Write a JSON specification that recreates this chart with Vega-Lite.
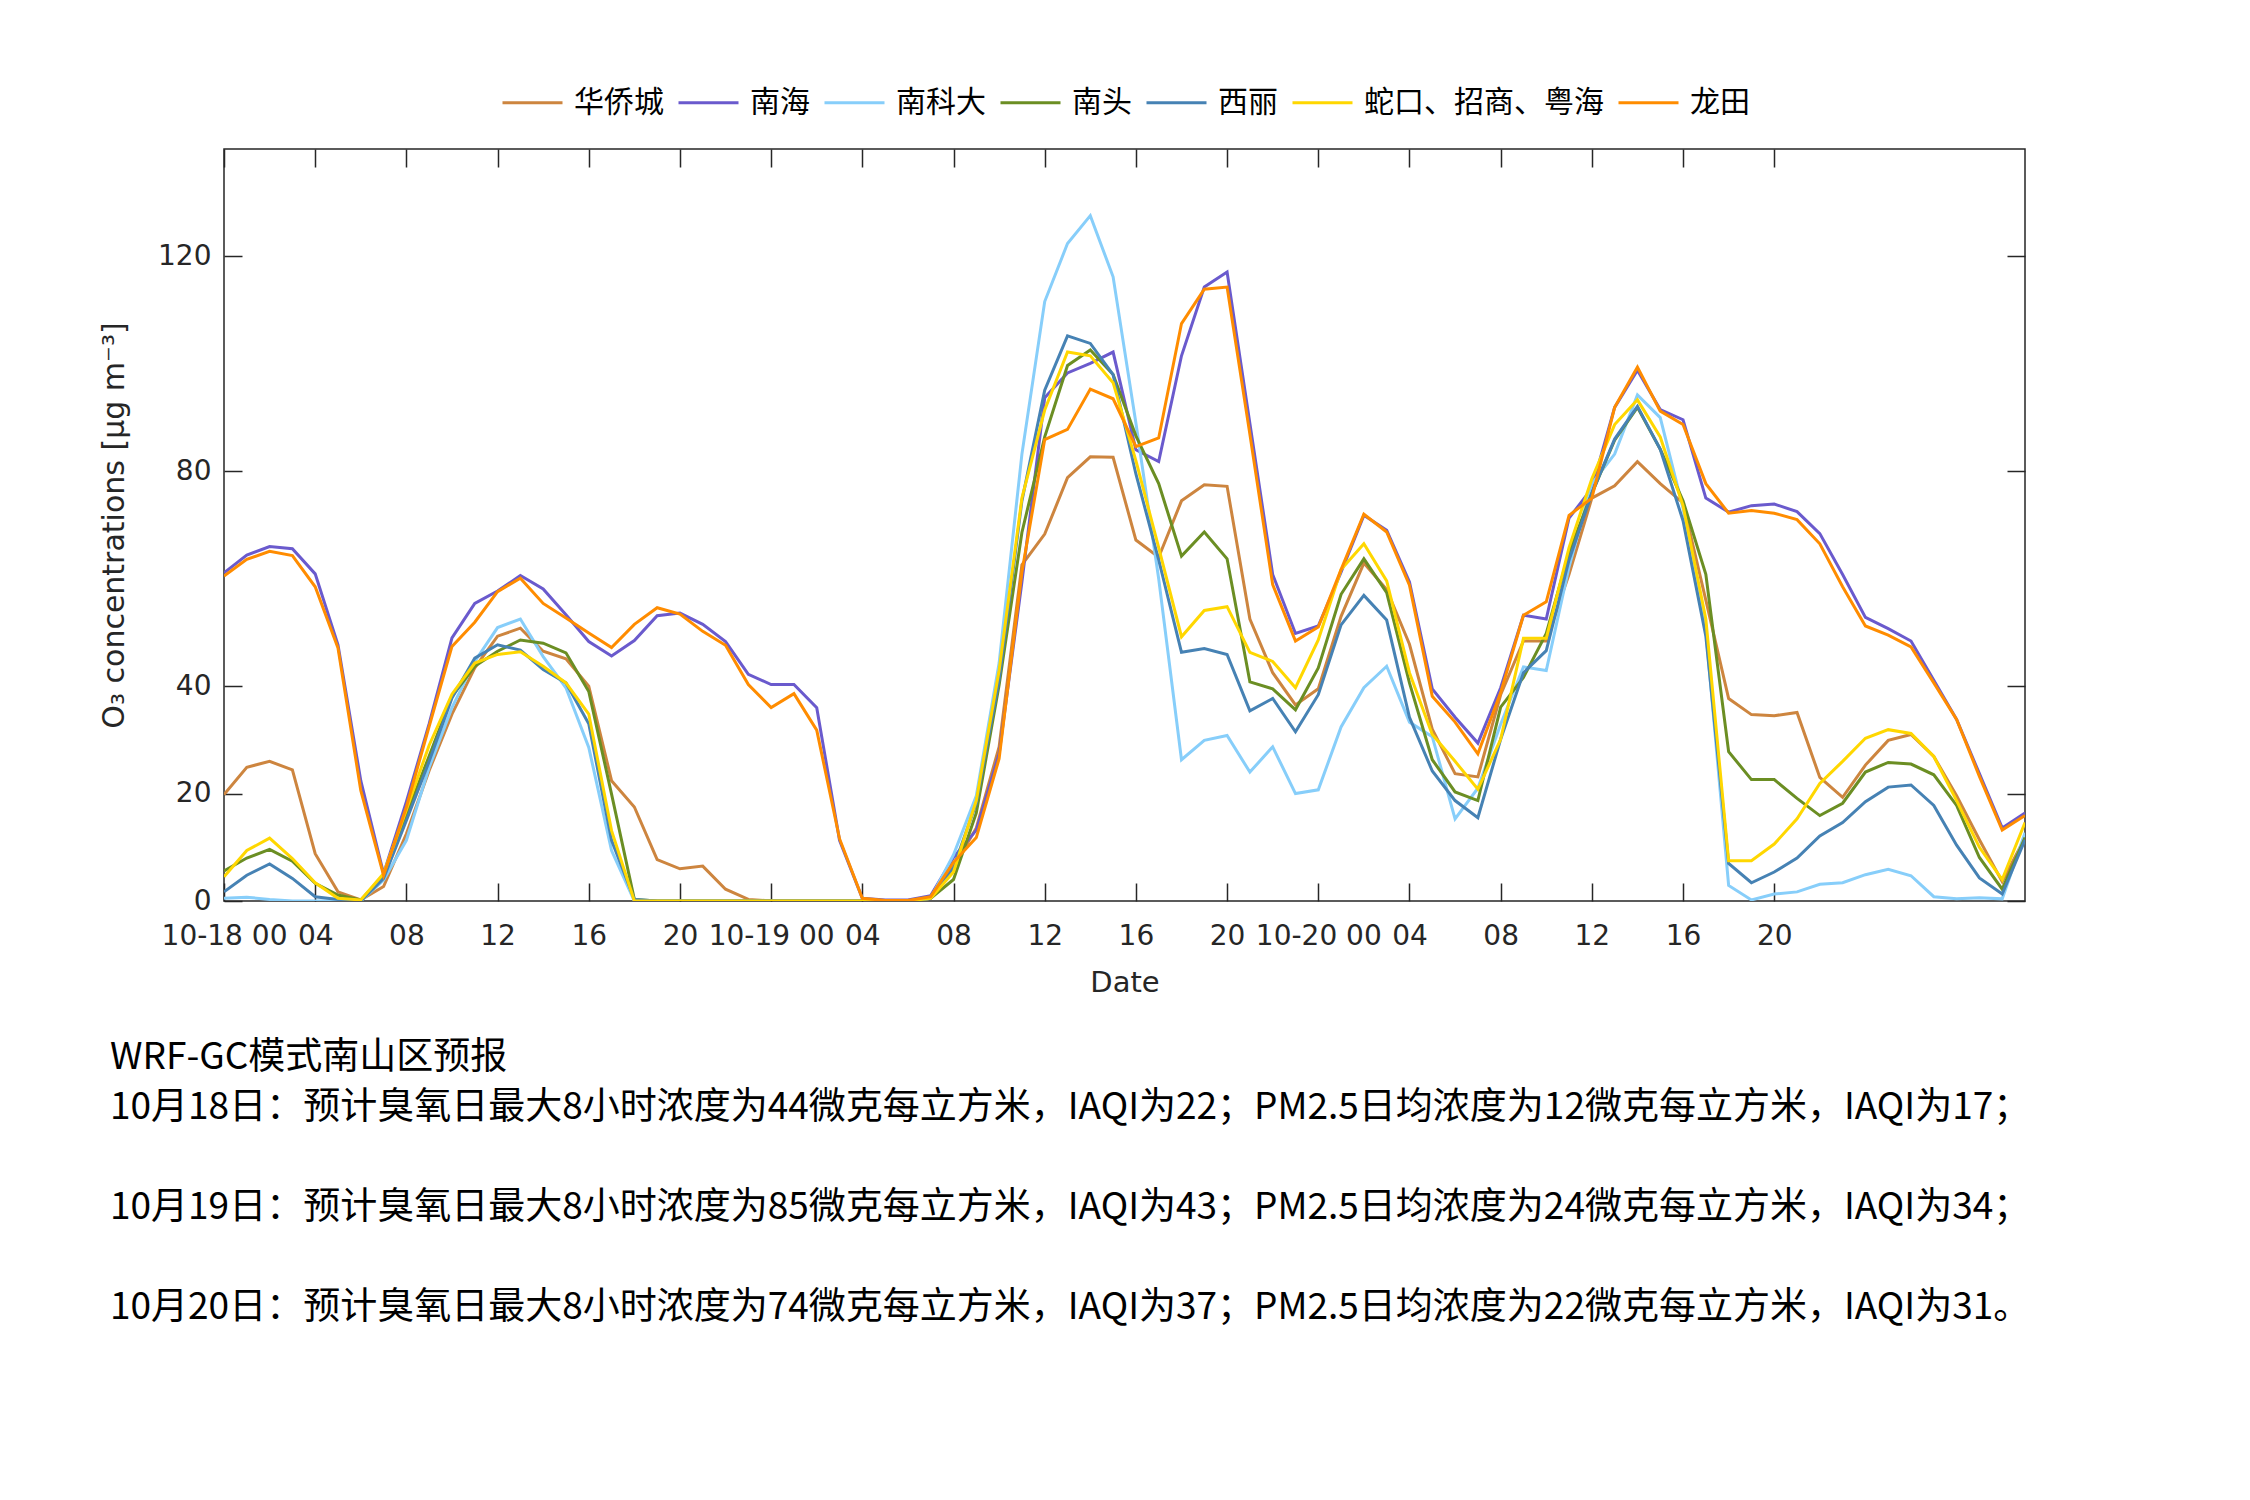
{
  "$schema": "https://vega.github.io/schema/vega-lite/v6.json",
  "width": 1801,
  "height": 752,
  "autosize": {"type": "none"},
  "padding": {"left": 224, "top": 149, "right": 225, "bottom": 599},
  "background": "white",
  "config": {
    "view": {"stroke": "#262626", "strokeWidth": 1.5},
    "font": "DejaVu Sans"
  },
  "title": {
    "text": "WRF-GC模式南山区预报",
    "subtitle": [
      "10月18日：预计臭氧日最大8小时浓度为44微克每立方米，IAQI为22；PM2.5日均浓度为12微克每立方米，IAQI为17；",
      "10月19日：预计臭氧日最大8小时浓度为85微克每立方米，IAQI为43；PM2.5日均浓度为24微克每立方米，IAQI为34；",
      "10月20日：预计臭氧日最大8小时浓度为74微克每立方米，IAQI为37；PM2.5日均浓度为22微克每立方米，IAQI为31。"
    ],
    "orient": "bottom",
    "anchor": "start",
    "frame": "group",
    "dx": -114,
    "offset": 43,
    "font": "Noto Sans CJK SC",
    "fontSize": 37,
    "fontWeight": "normal",
    "color": "#000000",
    "subtitleFont": "Noto Sans CJK SC",
    "subtitleFontSize": 37,
    "subtitleFontWeight": "normal",
    "subtitleColor": "#000000",
    "subtitleLineHeight": 100,
    "subtitlePadding": 13
  },
  "data": {
    "values": [
      {"hour":0,"华侨城":19.8,"南海":61.1,"南科大":0.5,"南头":5.6,"西丽":1.7,"蛇口、招商、粤海":4.5,"龙田":60.5},
      {"hour":1,"华侨城":24.9,"南海":64.4,"南科大":0.7,"南头":8.0,"西丽":4.8,"蛇口、招商、粤海":9.4,"龙田":63.6},
      {"hour":2,"华侨城":26.0,"南海":66.0,"南科大":0.3,"南头":9.6,"西丽":6.9,"蛇口、招商、粤海":11.7,"龙田":65.1},
      {"hour":3,"华侨城":24.4,"南海":65.6,"南科大":0,"南头":7.4,"西丽":4.2,"蛇口、招商、粤海":7.9,"龙田":64.3},
      {"hour":4,"华侨城":8.8,"南海":60.9,"南科大":0,"南头":3.3,"西丽":0.8,"蛇口、招商、粤海":3.4,"龙田":58.5},
      {"hour":5,"华侨城":1.7,"南海":47.7,"南科大":0,"南头":1.1,"西丽":0.3,"蛇口、招商、粤海":0.5,"龙田":47.1},
      {"hour":6,"华侨城":0.2,"南海":22.4,"南科大":0,"南头":0.2,"西丽":0,"蛇口、招商、粤海":0.2,"龙田":20.6},
      {"hour":7,"华侨城":2.7,"南海":5.1,"南科大":3.9,"南头":4.8,"西丽":4.2,"蛇口、招商、粤海":5.1,"龙田":4.8},
      {"hour":8,"华侨城":12.5,"南海":18.5,"南科大":11.3,"南头":16.0,"西丽":15.0,"蛇口、招商、粤海":17.0,"龙田":17.5},
      {"hour":9,"华侨城":24.3,"南海":33.0,"南科大":24.9,"南头":27.0,"西丽":26.0,"蛇口、招商、粤海":29.0,"龙田":32.5},
      {"hour":10,"华侨城":34.8,"南海":49.0,"南科大":36.0,"南头":38.1,"西丽":37.8,"蛇口、招商、粤海":38.5,"龙田":47.4},
      {"hour":11,"华侨城":43.4,"南海":55.4,"南科大":44.6,"南头":43.7,"西丽":45.2,"蛇口、招商、粤海":44.3,"龙田":51.9},
      {"hour":12,"华侨城":49.3,"南海":57.7,"南科大":50.9,"南头":46.5,"西丽":47.7,"蛇口、招商、粤海":45.9,"龙田":57.6},
      {"hour":13,"华侨城":50.8,"南海":60.6,"南科大":52.5,"南头":48.6,"西丽":46.7,"蛇口、招商、粤海":46.4,"龙田":60.1},
      {"hour":14,"华侨城":46.5,"南海":58.1,"南科大":45.5,"南头":48.0,"西丽":43.1,"蛇口、招商、粤海":43.7,"龙田":55.4},
      {"hour":15,"华侨城":45.1,"南海":53.3,"南科大":39.7,"南头":46.2,"西丽":40.6,"蛇口、招商、粤海":40.6,"龙田":52.7},
      {"hour":16,"华侨城":40.0,"南海":48.3,"南科大":28.6,"南头":39.0,"西丽":33.0,"蛇口、招商、粤海":34.8,"龙田":49.9},
      {"hour":17,"华侨城":22.4,"南海":45.6,"南科大":9.4,"南头":19.9,"西丽":11.3,"蛇口、招商、粤海":13.1,"龙田":47.2},
      {"hour":18,"华侨城":17.5,"南海":48.5,"南科大":0,"南头":0.3,"西丽":0.3,"蛇口、招商、粤海":0,"龙田":51.5},
      {"hour":19,"华侨城":7.7,"南海":53.1,"南科大":0,"南头":0,"西丽":0,"蛇口、招商、粤海":0,"龙田":54.6},
      {"hour":20,"华侨城":6.0,"南海":53.6,"南科大":0,"南头":0,"西丽":0,"蛇口、招商、粤海":0,"龙田":53.4},
      {"hour":21,"华侨城":6.5,"南海":51.5,"南科大":0,"南头":0,"西丽":0,"蛇口、招商、粤海":0,"龙田":50.2},
      {"hour":22,"华侨城":2.2,"南海":48.3,"南科大":0,"南头":0,"西丽":0,"蛇口、招商、粤海":0,"龙田":47.6},
      {"hour":23,"华侨城":0.3,"南海":42.2,"南科大":0,"南头":0,"西丽":0,"蛇口、招商、粤海":0,"龙田":40.3},
      {"hour":24,"华侨城":0,"南海":40.3,"南科大":0,"南头":0,"西丽":0,"蛇口、招商、粤海":0,"龙田":36.0},
      {"hour":25,"华侨城":0,"南海":40.3,"南科大":0,"南头":0,"西丽":0,"蛇口、招商、粤海":0,"龙田":38.6},
      {"hour":26,"华侨城":0,"南海":36.0,"南科大":0,"南头":0,"西丽":0,"蛇口、招商、粤海":0,"龙田":31.8},
      {"hour":27,"华侨城":0,"南海":11.3,"南科大":0,"南头":0,"西丽":0,"蛇口、招商、粤海":0,"龙田":11.6},
      {"hour":28,"华侨城":0,"南海":0.5,"南科大":0,"南头":0,"西丽":0,"蛇口、招商、粤海":0,"龙田":0.5},
      {"hour":29,"华侨城":0,"南海":0.2,"南科大":0,"南头":0,"西丽":0,"蛇口、招商、粤海":0,"龙田":0.1},
      {"hour":30,"华侨城":0,"南海":0.2,"南科大":0,"南头":0,"西丽":0,"蛇口、招商、粤海":0,"龙田":0.1},
      {"hour":31,"华侨城":0.5,"南海":1.0,"南科大":0.5,"南头":0.5,"西丽":0.5,"蛇口、招商、粤海":0.5,"龙田":0.8},
      {"hour":32,"华侨城":6.3,"南海":8.1,"南科大":8.6,"南头":4.0,"西丽":6.3,"蛇口、招商、粤海":5.4,"龙田":7.2},
      {"hour":33,"华侨城":13.6,"南海":13.2,"南科大":19.6,"南头":16.4,"西丽":18.2,"蛇口、招商、粤海":18.7,"龙田":11.8},
      {"hour":34,"华侨城":28.7,"南海":27.4,"南科大":44.3,"南头":40.2,"西丽":41.1,"蛇口、招商、粤海":42.9,"龙田":26.5},
      {"hour":35,"华侨城":62.6,"南海":59.4,"南科大":83.2,"南头":68.6,"西丽":74.5,"蛇口、招商、粤海":75.0,"龙田":61.2},
      {"hour":36,"华侨城":68.3,"南海":93.7,"南科大":111.6,"南头":86.4,"西丽":95.1,"蛇口、招商、粤海":91.4,"龙田":85.9},
      {"hour":37,"华侨城":78.8,"南海":98.3,"南科大":122.4,"南头":99.7,"西丽":105.2,"蛇口、招商、粤海":102.2,"龙田":87.8},
      {"hour":38,"华侨城":82.7,"南海":100.1,"南科大":127.6,"南头":102.6,"西丽":103.8,"蛇口、招商、粤海":101.5,"龙田":95.3},
      {"hour":39,"华侨城":82.6,"南海":102.2,"南科大":116.2,"南头":98.0,"西丽":98.0,"蛇口、招商、粤海":96.5,"龙田":93.5},
      {"hour":40,"华侨城":67.2,"南海":84.0,"南科大":89.0,"南头":86.6,"西丽":79.5,"蛇口、招商、粤海":82.0,"龙田":84.6},
      {"hour":41,"华侨城":64.0,"南海":81.8,"南科大":60.0,"南头":77.7,"西丽":63.5,"蛇口、招商、粤海":65.8,"龙田":86.2},
      {"hour":42,"华侨城":74.5,"南海":101.5,"南科大":26.3,"南头":64.2,"西丽":46.3,"蛇口、招商、粤海":49.2,"龙田":107.5},
      {"hour":43,"华侨城":77.5,"南海":114.3,"南科大":29.9,"南头":68.7,"西丽":47.0,"蛇口、招商、粤海":54.1,"龙田":113.9},
      {"hour":44,"华侨城":77.2,"南海":117.1,"南科大":30.8,"南头":63.7,"西丽":45.9,"蛇口、招商、粤海":54.8,"龙田":114.3},
      {"hour":45,"华侨城":52.5,"南海":88.9,"南科大":24.0,"南头":40.8,"西丽":35.4,"蛇口、招商、粤海":46.3,"龙田":86.9},
      {"hour":46,"华侨城":42.5,"南海":60.8,"南科大":28.7,"南头":39.5,"西丽":37.7,"蛇口、招商、粤海":44.6,"龙田":58.9},
      {"hour":47,"华侨城":36.5,"南海":49.8,"南科大":20.0,"南头":35.6,"西丽":31.5,"蛇口、招商、粤海":39.7,"龙田":48.4},
      {"hour":48,"华侨城":39.5,"南海":51.2,"南科大":20.7,"南头":43.4,"西丽":38.4,"蛇口、招商、粤海":48.6,"龙田":51.0},
      {"hour":49,"华侨城":53.0,"南海":61.2,"南科大":32.4,"南头":57.1,"西丽":51.4,"蛇口、招商、粤海":61.7,"龙田":61.7},
      {"hour":50,"华侨城":62.9,"南海":71.8,"南科大":39.7,"南头":63.7,"西丽":56.9,"蛇口、招商、粤海":66.5,"龙田":72.0},
      {"hour":51,"华侨城":58.0,"南海":69.0,"南科大":43.7,"南头":57.4,"西丽":52.3,"蛇口、招商、粤海":59.6,"龙田":68.7},
      {"hour":52,"华侨城":47.8,"南海":59.4,"南科大":33.3,"南头":40.6,"西丽":34.2,"蛇口、招商、粤海":42.5,"龙田":58.8},
      {"hour":53,"华侨城":32.0,"南海":39.5,"南科大":30.6,"南头":26.3,"西丽":24.2,"蛇口、招商、粤海":31.0,"龙田":38.1},
      {"hour":54,"华侨城":23.7,"南海":34.2,"南科大":15.3,"南头":20.3,"西丽":18.7,"蛇口、招商、粤海":26.0,"龙田":33.3},
      {"hour":55,"华侨城":23.1,"南海":29.4,"南科大":21.0,"南头":18.7,"西丽":15.5,"蛇口、招商、粤海":20.8,"龙田":27.4},
      {"hour":56,"华侨城":38.4,"南海":39.7,"南科大":32.9,"南头":36.1,"西丽":30.1,"蛇口、招商、粤海":30.1,"龙田":38.8},
      {"hour":57,"华侨城":48.4,"南海":53.2,"南科大":43.6,"南头":41.6,"西丽":42.5,"蛇口、招商、粤海":48.9,"龙田":53.2},
      {"hour":58,"华侨城":48.4,"南海":52.5,"南科大":42.9,"南头":49.8,"西丽":46.6,"蛇口、招商、粤海":48.9,"龙田":55.7},
      {"hour":59,"华侨城":60.8,"南海":71.3,"南科大":62.2,"南头":64.9,"西丽":63.5,"蛇口、招商、粤海":65.8,"龙田":71.8},
      {"hour":60,"华侨城":75.0,"南海":76.8,"南科大":77.7,"南头":75.9,"西丽":75.9,"蛇口、招商、粤海":78.6,"龙田":75.0},
      {"hour":61,"华侨城":77.3,"南海":91.9,"南科大":83.2,"南头":85.8,"西丽":86.0,"蛇口、招商、粤海":88.7,"龙田":91.9},
      {"hour":62,"华侨城":81.8,"南海":98.8,"南科大":94.2,"南头":91.9,"西丽":92.1,"蛇口、招商、粤海":93.3,"龙田":99.4},
      {"hour":63,"华侨城":77.7,"南海":91.5,"南科大":90.0,"南头":84.1,"西丽":84.1,"蛇口、招商、粤海":86.4,"龙田":91.2},
      {"hour":64,"华侨城":74.1,"南海":89.6,"南科大":73.1,"南头":74.5,"西丽":70.8,"蛇口、招商、粤海":73.6,"龙田":88.7},
      {"hour":65,"华侨城":56.0,"南海":75.0,"南科大":50.3,"南头":60.8,"西丽":49.3,"蛇口、招商、粤海":52.5,"龙田":77.7},
      {"hour":66,"华侨城":37.7,"南海":72.4,"南科大":2.9,"南头":27.8,"西丽":7.0,"蛇口、招商、粤海":7.5,"龙田":72.2},
      {"hour":67,"华侨城":34.7,"南海":73.6,"南科大":0.2,"南头":22.6,"西丽":3.4,"蛇口、招商、粤海":7.5,"龙田":72.7},
      {"hour":68,"华侨城":34.5,"南海":73.9,"南科大":1.3,"南头":22.6,"西丽":5.4,"蛇口、招商、粤海":10.6,"龙田":72.2},
      {"hour":69,"华侨城":35.1,"南海":72.5,"南科大":1.7,"南头":19.1,"西丽":8.0,"蛇口、招商、粤海":15.3,"龙田":71.0},
      {"hour":70,"华侨城":23.0,"南海":68.4,"南科大":3.1,"南头":15.9,"西丽":12.1,"蛇口、招商、粤海":21.9,"龙田":66.5},
      {"hour":71,"华侨城":19.3,"南海":60.8,"南科大":3.4,"南头":18.2,"西丽":14.6,"蛇口、招商、粤海":26.0,"龙田":58.5},
      {"hour":72,"华侨城":25.3,"南海":52.8,"南科大":4.9,"南头":24.0,"西丽":18.5,"蛇口、招商、粤海":30.3,"龙田":51.2},
      {"hour":73,"华侨城":29.9,"南海":50.7,"南科大":5.9,"南头":25.8,"西丽":21.2,"蛇口、招商、粤海":31.9,"龙田":49.5},
      {"hour":74,"华侨城":31.0,"南海":48.4,"南科大":4.7,"南头":25.5,"西丽":21.6,"蛇口、招商、粤海":31.2,"龙田":47.3},
      {"hour":75,"华侨城":26.9,"南海":41.1,"南科大":0.8,"南头":23.5,"西丽":17.8,"蛇口、招商、粤海":26.9,"龙田":40.6},
      {"hour":76,"华侨城":19.6,"南海":33.8,"南科大":0.4,"南头":17.8,"西丽":10.4,"蛇口、招商、粤海":18.7,"龙田":33.8},
      {"hour":77,"华侨城":11.4,"南海":23.7,"南科大":0.6,"南头":8.1,"西丽":4.3,"蛇口、招商、粤海":10.0,"龙田":23.2},
      {"hour":78,"华侨城":3.6,"南海":13.6,"南科大":0.4,"南头":2.2,"西丽":1.3,"蛇口、招商、粤海":4.0,"龙田":13.2},
      {"hour":79,"华侨城":11.8,"南海":16.4,"南科大":12.7,"南头":11.8,"西丽":11.4,"蛇口、招商、粤海":14.6,"龙田":15.9}
    ]
  },
  "transform": [
    {"fold": ["华侨城", "南海", "南科大", "南头", "西丽", "蛇口、招商、粤海", "龙田"], "as": ["站点", "O3"]}
  ],
  "resolve": {"axis": {"x": "independent", "y": "independent"}},
  "layer": [
    {
      "mark": {"type": "line", "strokeWidth": 3, "clip": true},
      "encoding": {
        "x": {
          "field": "hour",
          "type": "quantitative",
          "scale": {"domain": [0, 79], "nice": false, "zero": false},
          "axis": {
            "orient": "bottom",
            "values": [0, 4, 8, 12, 16, 20, 24, 28, 32, 36, 40, 44, 48, 52, 56, 60, 64, 68],
            "labelExpr": "datum.value % 24 == 0 ? '10-' + (18 + datum.value / 24) + ' 00' : ((datum.value % 24) < 10 ? '0' : '') + (datum.value % 24)",
            "domain": false,
            "grid": false,
            "tickSize": -18,
            "tickWidth": 1.5,
            "tickColor": "#262626",
            "labelPadding": 39,
            "labelFlush": false,
            "labelOverlap": false,
            "labelBound": false,
            "labelFont": "DejaVu Sans",
            "labelFontSize": 28,
            "labelColor": "#262626",
            "title": "Date",
            "titleFont": "DejaVu Sans",
            "titleFontSize": 29,
            "titleFontWeight": "normal",
            "titleColor": "#262626",
            "titlePadding": 18
          }
        },
        "y": {
          "field": "O3",
          "type": "quantitative",
          "scale": {"domain": [0, 140], "nice": false},
          "axis": {
            "orient": "left",
            "values": [0, 20, 40, 80, 120],
            "domain": false,
            "grid": false,
            "tickSize": -18,
            "tickWidth": 1.5,
            "tickColor": "#262626",
            "labelPadding": 31,
            "labelFont": "DejaVu Sans",
            "labelFontSize": 28,
            "labelColor": "#262626",
            "title": "O₃ concentrations [μg m⁻³]",
            "titleFont": "DejaVu Sans",
            "titleFontSize": 30,
            "titleFontWeight": "normal",
            "titleColor": "#262626",
            "titlePadding": 28
          }
        },
        "color": {
          "field": "站点",
          "type": "nominal",
          "scale": {
            "domain": ["华侨城", "南海", "南科大", "南头", "西丽", "蛇口、招商、粤海", "龙田"],
            "range": ["#CD853F", "#6A5ACD", "#87CEFA", "#6B8E23", "#4682B4", "#FFD700", "#FF8C00"]
          },
          "legend": {
            "orient": "none",
            "legendX": 277,
            "legendY": -78,
            "direction": "horizontal",
            "title": null,
            "symbolType": "stroke",
            "symbolSize": 3600,
            "symbolStrokeWidth": 3,
            "labelFont": "Noto Sans CJK SC",
            "labelFontSize": 30,
            "labelColor": "#000000",
            "labelOffset": 10,
            "columnPadding": 8,
            "labelLimit": 400
          }
        }
      }
    },
    {
      "mark": {"type": "point", "opacity": 0},
      "encoding": {
        "x": {
          "field": "hour",
          "type": "quantitative",
          "axis": {
            "orient": "top",
            "values": [0, 4, 8, 12, 16, 20, 24, 28, 32, 36, 40, 44, 48, 52, 56, 60, 64, 68],
            "labels": false,
            "domain": false,
            "grid": false,
            "tickSize": -18,
            "tickWidth": 1.5,
            "tickColor": "#262626",
            "title": null
          }
        },
        "y": {
          "field": "O3",
          "type": "quantitative",
          "axis": {
            "orient": "right",
            "values": [0, 20, 40, 80, 120],
            "labels": false,
            "domain": false,
            "grid": false,
            "tickSize": -18,
            "tickWidth": 1.5,
            "tickColor": "#262626",
            "title": null
          }
        }
      }
    }
  ]
}
